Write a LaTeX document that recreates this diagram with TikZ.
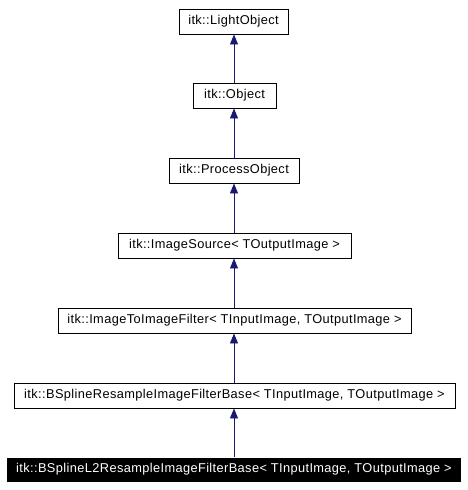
\documentclass[tikz,border=0pt]{standalone}
\usepackage{fontspec}
\setmainfont{Liberation Sans}[LetterSpace=3]
\usetikzlibrary{arrows.meta}
\definecolor{edgeblue}{HTML}{191970}
\tikzset{
  cls/.style={draw=black, line width=0.9pt, fill=white, minimum height=25pt, inner sep=0pt, font=\fontsize{12.8}{14}\selectfont},
  cur/.style={fill=black, text=white, minimum height=24pt, inner sep=0pt, font=\fontsize{12.8}{14}\selectfont},
  inh/.style={draw=edgeblue, line width=0.9pt, -{Triangle[length=10pt,width=8pt]}, fill=edgeblue}
}
\begin{document}
\begin{tikzpicture}[x=1pt,y=-1pt]
\useasboundingbox (0,0) rectangle (468,490);
\fill[white] (0,0) rectangle (468,490);
\node[cls, minimum width=109pt] (light) at (233.5,21.5) {itk::LightObject};
\node[cls, minimum width=83pt] (object) at (234.5,95.5) {itk::Object};
\node[cls, minimum width=130pt] (process) at (234,170.5) {itk::ProcessObject};
\node[cls, minimum width=233pt] (source) at (234.5,245.5) {itk::ImageSource< TOutputImage >};
\node[cls, minimum width=353pt] (i2i) at (234.5,320.5) {itk::ImageToImageFilter< TInputImage, TOutputImage >};
\node[cls, minimum width=441pt] (bsr) at (234.5,395.5) {itk::BSplineResampleImageFilterBase< TInputImage, TOutputImage >};
\node[cur, minimum width=454pt] (bsl2) at (234,469.5) {itk::BSplineL2ResampleImageFilterBase< TInputImage, TOutputImage >};
\draw[inh] (object.north -| 234,0) -- (light.south -| 234,0);
\draw[inh] (process.north -| 234,0) -- (object.south -| 234,0);
\draw[inh] (source.north -| 234,0) -- (process.south -| 234,0);
\draw[inh] (i2i.north -| 234,0) -- (source.south -| 234,0);
\draw[inh] (bsr.north -| 234,0) -- (i2i.south -| 234,0);
\draw[inh] (bsl2.north -| 234,0) -- (bsr.south -| 234,0);
\end{tikzpicture}
\end{document}
